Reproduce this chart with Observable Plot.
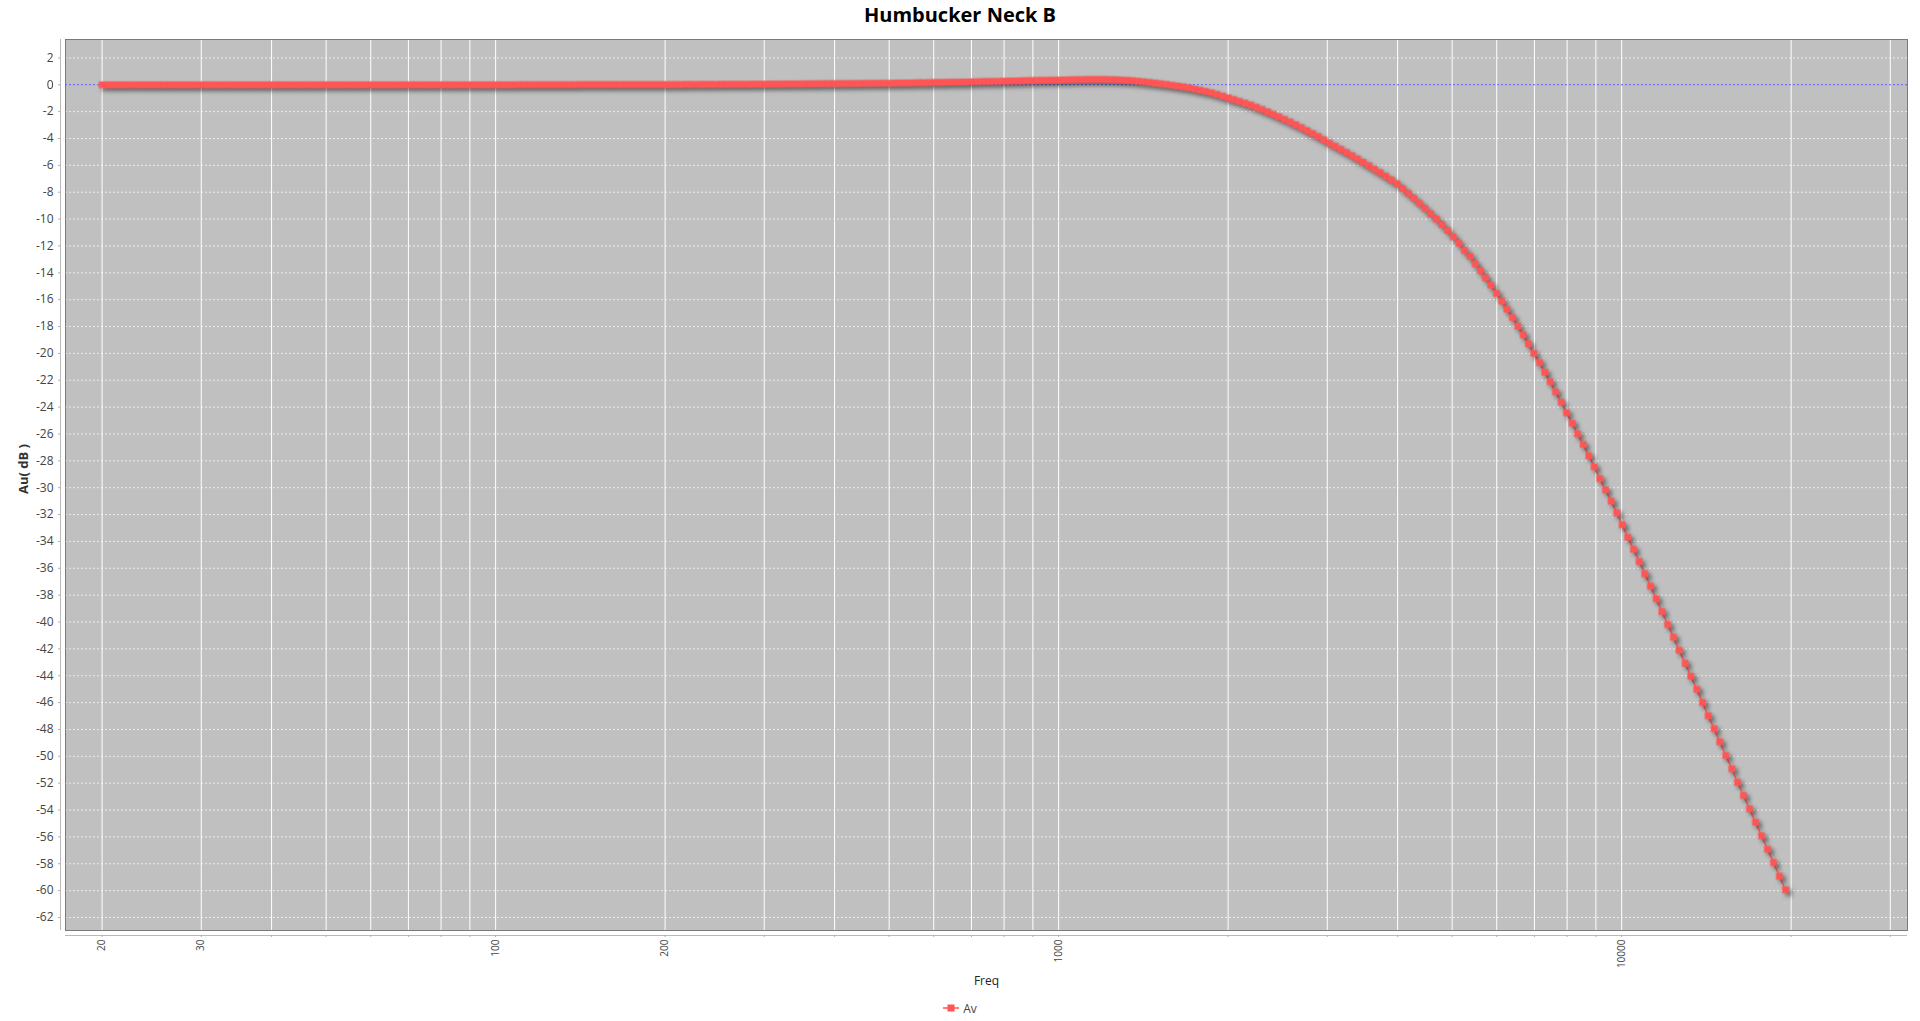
<!DOCTYPE html>
<html><head><meta charset="utf-8">
<script src="https://cdn.jsdelivr.net/npm/d3@7"></script>
<script src="https://cdn.jsdelivr.net/npm/@observablehq/plot@0.6"></script>
<style>
html,body{margin:0;padding:0;background:#fff;overflow:hidden;}
body{width:1920px;height:1021px;font-family:"Open Sans",sans-serif;}
#title{height:30px;line-height:30px;text-align:center;font-weight:bold;font-size:20px;color:#000;}
#chart{height:965px;}
#legend{height:26px;display:flex;align-items:center;justify-content:center;font-size:12px;color:#444;gap:4px;}
</style></head><body>
<div id="title">Humbucker Neck B</div>
<div id="chart"></div>
<div id="legend"><svg width="16" height="10"><line x1="0" y1="5" x2="16" y2="5" stroke="#ff5555" stroke-width="1.5"/><rect x="4.5" y="1.5" width="7" height="7" fill="#ff5555"/></svg><span id="legend-label"></span></div>
<script>
const seriesName = "Av";
const xLabel = "Freq";
const yLabel = "Au( dB )";

const freqHz = [
20, 20.5, 20.9, 21.4, 21.9, 22.4, 23.0, 23.5, 24.0, 24.6,
25.2, 25.8, 26.4, 27.0, 27.6, 28.3, 28.9, 29.6, 30.3, 31.0,
31.7, 32.4, 33.2, 34.0, 34.8, 35.6, 36.4, 37.2, 38.1, 39.0,
39.9, 40.8, 41.8, 42.8, 43.8, 44.8, 45.8, 46.9, 48.0, 49.1,
50.2, 51.4, 52.6, 53.8, 55.1, 56.4, 57.7, 59.0, 60.4, 61.8,
63.2, 64.7, 66.2, 67.8, 69.3, 71.0, 72.6, 74.3, 76.0, 77.8,
79.6, 81.5, 83.4, 85.3, 87.3, 89.3, 91.4, 93.5, 95.7, 98.0,
100.2, 102.6, 105.0, 107.4, 109.9, 112.5, 115.1, 117.8, 120.5, 123.3,
126.2, 129.1, 132.1, 135.2, 138.4, 141.6, 144.9, 148.3, 151.7, 155.2,
158.9, 162.6, 166.4, 170.2, 174.2, 178.3, 182.4, 186.7, 191.0, 195.4,
200, 205, 209, 214, 219, 224, 230, 235, 240, 246,
252, 258, 264, 270, 276, 283, 289, 296, 303, 310,
317, 324, 332, 340, 348, 356, 364, 372, 381, 390,
399, 408, 418, 428, 438, 448, 458, 469, 480, 491,
502, 514, 526, 538, 551, 564, 577, 590, 604, 618,
632, 647, 662, 678, 693, 710, 726, 743, 760, 778,
796, 815, 834, 853, 873, 893, 914, 935, 957, 980,
1002, 1026, 1050, 1074, 1099, 1125, 1151, 1178, 1205, 1233,
1262, 1291, 1321, 1352, 1384, 1416, 1449, 1483, 1517, 1552,
1589, 1626, 1664, 1702, 1742, 1783, 1824, 1867, 1910, 1954,
2000, 2046, 2094, 2143, 2193, 2244, 2296, 2350, 2404, 2460,
2518, 2576, 2636, 2698, 2761, 2825, 2891, 2958, 3027, 3098,
3170, 3244, 3319, 3396, 3476, 3556, 3639, 3724, 3811, 3899,
3990, 4083, 4178, 4276, 4375, 4477, 4581, 4688, 4797, 4909,
5023, 5140,
5258, 5382, 5494, 5614, 5730, 5855, 5993, 6125, 6252, 6397,
6538, 6684, 6830, 6980, 7145, 7302, 7464, 7628, 7807, 7980,
8168, 8347, 8543, 8742, 8937, 9143, 9359, 9579, 9801, 10020,
10252, 10495, 10742, 10990, 11250, 11516,
11785, 12071, 12359, 12650, 12966, 13266, 13596, 13916, 14244, 14598,
14935, 15307, 15689, 16058, 16456, 16866, 17286, 17715, 18155, 18605,
19060, 19540
];

const avDb = [
0, 0, 0, 0, 0, 0, 0, 0, 0, 0,
0, 0, 0, 0, 0, 0, 0, 0, 0, 0,
0, 0, 0, 0, 0, 0, 0, 0, 0, 0,
0, 0, 0, 0, 0, 0, 0, 0, 0, 0,
0, 0, 0, 0, 0, 0, 0, 0, 0, 0,
0, 0, 0, 0, 0, 0, 0, 0, 0, 0,
0, 0, 0, 0, 0, 0, 0, 0, 0, 0,
0, 0, 0, 0, 0.01, 0.01, 0.01, 0.01, 0.01, 0.01,
0.01, 0.01, 0.01, 0.01, 0.01, 0.02, 0.02, 0.02, 0.02, 0.02,
0.02, 0.02, 0.02, 0.02, 0.02, 0.02, 0.02, 0.02, 0.02, 0.02,
0.02, 0.02, 0.02, 0.02, 0.03, 0.03, 0.03, 0.03, 0.03, 0.03,
0.04, 0.04, 0.04, 0.04, 0.04, 0.05, 0.05, 0.05,
0.05, 0.06, 0.06, 0.06, 0.07, 0.07, 0.07, 0.08, 0.08, 0.08,
0.09, 0.09, 0.09, 0.09, 0.10, 0.10, 0.10, 0.11, 0.11, 0.11, 0.12, 0.12,
0.12, 0.13, 0.14, 0.14, 0.15, 0.16, 0.16, 0.17, 0.18, 0.18, 0.19, 0.20, 0.20, 0.21, 0.22,
0.23, 0.24, 0.25, 0.25, 0.26, 0.27, 0.28, 0.29, 0.30, 0.31, 0.32, 0.33, 0.34, 0.34, 0.35, 0.36,
0.37, 0.38, 0.39, 0.39, 0.40, 0.40, 0.40,
0.40, 0.39, 0.38, 0.36, 0.34,
0.31, 0.27, 0.23, 0.18,
0.13, 0.08, 0.03, -0.03,
-0.09, -0.15, -0.22,
-0.31, -0.40, -0.49, -0.59,
-0.71, -0.84, -0.97,
-1.10, -1.23, -1.37, -1.51,
-1.67, -1.84, -2.02, -2.20,
-2.39, -2.58, -2.78,
-2.98, -3.19, -3.42,
-3.63, -3.86, -4.10, -4.35,
-4.58, -4.81, -5.04, -5.28,
-5.53, -5.78, -6.03,
-6.29, -6.55, -6.82, -7.09, -7.37,
-7.73, -8.09, -8.46,
-8.83, -9.22, -9.61, -10.00,
-10.42, -10.85, -11.32, -11.80,
-12.34, -12.78, -13.33, -13.85, -14.37, -14.92, -15.52, -16.11, -16.71, -17.33,
-17.97, -18.62, -19.29, -19.98, -20.68, -21.40, -22.11, -22.86, -23.63, -24.42,
-25.20, -25.99, -26.78, -27.63, -28.44, -29.32, -30.16, -31.00, -31.87, -32.76,
-33.69, -34.58, -35.50, -36.41, -37.33, -38.27,
-39.22, -40.19, -41.13, -42.10, -43.07, -44.04, -45.00, -45.99, -46.98, -47.95,
-48.92, -49.94, -50.93, -51.93, -52.92, -53.91, -54.91, -55.92, -56.92, -57.91,
-58.93, -59.94
];

const xGridHz = [20, 30, 40, 50, 60, 70, 80, 90, 100, 200, 300, 400, 500, 600, 700, 800, 900,
  1000, 2000, 3000, 4000, 5000, 6000, 7000, 8000, 9000, 10000, 20000, 30000];
const xTickLabels = [20, 30, 100, 200, 1000, 10000];
const yTicks = [-62, -60, -58, -56, -54, -52, -50, -48, -46, -44, -42, -40, -38, -36, -34, -32,
  -30, -28, -26, -24, -22, -20, -18, -16, -14, -12, -10, -8, -6, -4, -2, 0, 2];
const zeroLine = [0];
const xDomain = [17.22, 32190];
const yDomain = [-62.97, 3.37];

if (freqHz.length !== avDb.length) console.error("length mismatch", freqHz.length, avDb.length);
const data = freqHz.map((f, i) => ({freq: f, av: avDb[i]}));

const red = "#ff5555";
const plot = Plot.plot({
  width: 1920,
  height: 965,
  marginLeft: 65,
  marginRight: 13,
  marginTop: 9,
  marginBottom: 65,
  x: {type: "log", domain: xDomain, label: null},
  y: {domain: yDomain, label: null},
  style: {fontFamily: '"Open Sans", sans-serif', background: "#fff", overflow: "visible"},
  marks: [
    Plot.frame({fill: "#c0c0c0"}),
    Plot.ruleY(yTicks, {stroke: "#ececec", strokeDasharray: "2,2", strokeWidth: 1}),
    Plot.ruleX(xGridHz, {stroke: "#ffffff", strokeWidth: 1}),
    Plot.ruleY(zeroLine, {stroke: "#4d4dff", strokeDasharray: "2,2", strokeWidth: 1}),
    Plot.line(data, {x: "freq", y: "av", stroke: red, strokeWidth: 1.5}),
    Plot.dot(data, {x: "freq", y: "av", symbol: "square", r: 3.8, fill: red, stroke: "none"}),
    Plot.frame({stroke: "#7a7a7a"}),
    Plot.ruleX([xDomain[0]], {dx: -5, stroke: "#b8b8b8"}),
    Plot.ruleY([yDomain[0]], {dy: 5, stroke: "#b8b8b8"}),
    Plot.axisY(yTicks, {anchor: "left", tickSize: 2, tickPadding: 5, dx: -5, stroke: "#b0b0b0", fill: "#444", fontSize: 12, tickFormat: d => String(d), label: null}),
    Plot.axisX(xGridHz, {anchor: "bottom", tickSize: 2, dy: 5, stroke: "#b0b0b0", tickFormat: () => "", label: null}),
    Plot.axisX(xTickLabels, {anchor: "bottom", tickSize: 0, tickPadding: 9, tickRotate: -90, textAnchor: "end", lineAnchor: "middle", fill: "#444", fontSize: 10, tickFormat: d => String(d), label: null}),
    Plot.text([yLabel], {text: d => d, frameAnchor: "left", textAnchor: "middle", lineAnchor: "middle", dx: -42, dy: -16, rotate: -90, fontWeight: "bold", fontSize: 13, fill: "#333"}),
    Plot.text([xLabel], {text: d => d, frameAnchor: "bottom", dy: 54, fontSize: 12, fill: "#222"})
  ]
});
document.getElementById("chart").appendChild(plot);
document.getElementById("legend-label").textContent = seriesName;
plot.querySelectorAll('g[aria-label="line"], g[aria-label="dot"]').forEach(g => {
  g.style.filter = "drop-shadow(3px 3px 2px rgba(0,0,0,0.4))";
});
</script>
</body></html>
